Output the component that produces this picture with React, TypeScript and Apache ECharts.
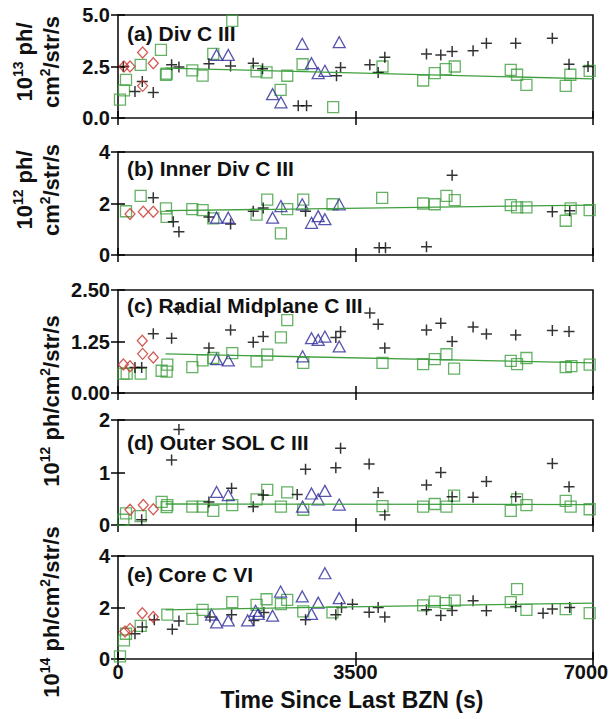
import React, { useEffect, useRef } from "react";
import * as echarts from "echarts";

// ---------- data (x = time since last BZN [s], y = brightness) ----------
const X_TICKS = [0, 3500, 7000];

// (a) Div C III  (10^13 ph/cm2/str/s)
const aPlus = [[79,2.50],[358,1.77],[250,1.29],[520,1.24],[790,2.58],[898,2.47],[1340,2.63],[1659,2.53],[1993,2.66],[2130,2.39],[2656,0.60],[2779,0.60],[3220,2.05],[3280,2.45],[3711,2.58],[3834,2.21],[3932,2.95],[4546,3.11],[4757,3.06],[4924,3.23],[5233,3.27],[5429,3.63],[5861,3.63],[6401,3.87],[6647,2.61],[6927,2.50]];
const aSquare = [[29,0.89],[88,1.34],[118,1.85],[334,2.58],[633,3.31],[707,2.10],[717,2.15],[1095,2.31],[1247,2.06],[1404,3.11],[1684,4.71],[2042,2.26],[2189,2.21],[2494,2.05],[2396,1.37],[2720,2.61],[3171,0.53],[3898,2.50],[4497,1.82],[4668,2.18],[4830,2.37],[4963,2.50],[5788,2.34],[5881,2.10],[6019,1.61],[6598,1.56],[6666,2.10],[6951,2.29]];
const aTri = [[1453,3.06],[1625,3.06],[2715,3.60],[3260,3.68],[2852,2.66],[2950,2.18],[3049,2.29],[2278,1.16],[2401,0.76]];
const aDia = [[88,2.50],[177,2.50],[363,3.18],[520,2.66],[363,1.56]];
const aFit = [[700,2.42],[7000,1.90]];

// (b) Inner Div C III  (10^12)
const bPlus = [[520,2.22],[815,1.29],[898,0.90],[1340,1.48],[1659,1.20],[1993,1.70],[2140,1.83],[2764,1.70],[3849,0.28],[3942,0.28],[4546,0.32],[4924,3.10],[6401,1.68],[6657,1.72]];
const bSquare = [[118,1.70],[334,2.30],[707,1.81],[717,1.48],[1095,1.78],[1247,1.74],[1404,1.42],[2042,1.57],[2199,2.15],[2494,1.78],[2401,0.84],[2730,2.15],[3161,1.97],[3893,2.22],[4497,2.00],[4668,1.97],[4840,2.30],[4963,2.13],[5788,1.94],[5881,1.85],[6019,1.85],[6598,1.33],[6671,1.81],[6951,1.74]];
const bTri = [[1453,1.45],[1625,1.45],[2278,1.45],[2401,1.90],[2715,1.97],[2852,1.25],[2950,1.51],[3049,1.39],[3260,1.97]];
const bDia = [[177,1.59],[373,1.68],[520,1.68]];
const bFit = [[700,1.72],[7000,1.94]];

// (c) Radial Midplane C III  (10^12)
const cPlus = [[250,0.62],[349,0.62],[520,1.44],[790,1.33],[888,2.03],[1340,1.09],[1659,1.53],[1993,1.23],[2140,1.37],[3210,1.35],[3280,1.49],[3711,1.94],[3834,1.67],[3932,1.09],[4546,1.53],[4757,1.69],[4924,1.25],[5233,1.60],[5429,1.43],[5861,1.41],[6401,1.52],[6647,1.49]];
const cSquare = [[79,0.47],[128,0.47],[334,0.47],[643,0.54],[717,0.52],[727,0.69],[1095,0.63],[1247,0.79],[1404,0.85],[1684,0.97],[2042,0.77],[2199,0.93],[2401,1.35],[2494,1.77],[2730,0.73],[3898,0.73],[4497,0.70],[4668,0.82],[4840,0.94],[4953,0.59],[5788,0.78],[5881,0.70],[6019,0.85],[6598,0.63],[6681,0.65],[6951,0.69]];
const cTri = [[1453,0.82],[1625,0.79],[2720,0.89],[2852,1.33],[2950,1.29],[3049,1.37],[3260,1.13]];
const cDia = [[79,0.69],[177,0.65],[358,1.27],[363,0.95],[520,0.86]];
const cFit = [[700,0.95],[7000,0.73]];

// (d) Outer SOL C III  (10^12)
const dPlus = [[349,0.10],[790,1.24],[898,1.82],[1340,0.44],[1674,0.70],[1993,0.35],[2140,0.57],[2641,0.58],[2764,1.06],[3210,1.09],[3280,1.46],[3701,1.16],[3834,0.62],[3932,0.19],[4546,0.76],[4757,1.00],[4924,0.54],[5233,0.53],[5429,0.83],[5861,0.54],[6401,1.17],[6647,0.73]];
const dSquare = [[79,0.10],[118,0.22],[334,0.17],[643,0.44],[717,0.34],[727,0.38],[1095,0.35],[1247,0.35],[1404,0.27],[1684,0.38],[2042,0.49],[2199,0.67],[2401,0.35],[2494,0.62],[2730,0.29],[3898,0.36],[4497,0.35],[4668,0.40],[4840,0.35],[4953,0.56],[5788,0.27],[5881,0.49],[6019,0.38],[6598,0.46],[6671,0.35],[6951,0.30]];
const dTri = [[1453,0.63],[1625,0.57],[2720,0.35],[2852,0.60],[2950,0.49],[3049,0.65],[3260,0.39]];
const dDia = [[177,0.29],[373,0.38],[520,0.30]];
const dFit = [[700,0.40],[7000,0.39]];

// (e) Core C VI  (10^14)
const ePlus = [[250,0.98],[358,1.24],[535,1.52],[800,1.16],[898,1.48],[1355,1.63],[1674,1.72],[2003,1.50],[2150,1.81],[2764,1.52],[3210,1.72],[3294,2.00],[3456,2.13],[3701,1.82],[3834,2.00],[3932,1.63],[4546,1.91],[4757,1.69],[4924,1.88],[5233,2.26],[5429,1.87],[5861,2.04],[6264,1.78],[6401,1.94],[6657,2.00]];
const eSquare = [[29,0.10],[88,0.72],[118,0.98],[334,1.29],[727,1.72],[1095,1.56],[1247,1.91],[1684,2.21],[2042,2.10],[2189,2.32],[2401,2.13],[2494,2.30],[2730,1.85],[3161,1.81],[4497,2.08],[4668,2.23],[4830,2.17],[4963,2.27],[5788,2.21],[5881,2.71],[6019,1.91],[6598,1.94],[6951,1.78]];
const eTri = [[1379,1.72],[1453,1.42],[1625,1.50],[1910,1.50],[2027,1.87],[2066,1.75],[2278,1.68],[2396,2.62],[2715,2.43],[2852,1.75],[2950,2.19],[3049,3.33],[3260,2.36]];
const eDia = [[103,1.07],[177,1.17],[358,1.78],[520,1.63]];
const eFit = [[700,1.91],[7000,2.17]];

const PANEL_TITLES = ["(a) Div C III", "(b) Inner Div C III", "(c) Radial Midplane C III", "(d) Outer SOL C III", "(e) Core C VI"];
const Y_MAX = [5, 4, 2.5, 2, 4];
const Y_INTERVAL = [2.5, 2, 1.25, 1, 2];
const Y_DECIMALS = [1, 0, 2, 0, 0];
const X_TITLE = "Time Since Last BZN (s)";

// ---------- layout ----------
const FONT = "'Liberation Sans', Arial, Helvetica, sans-serif";
const GRID_LEFT = 118;
const GRID_WIDTH = 475;
const GRID_TOPS = [15, 152, 290, 420, 556];
const GRID_HEIGHTS = [103, 103, 103, 105, 103];
const TITLE_Y = [33, 168, 305, 442, 574];

const GREEN = "#3f9f3f";
const BLUE = "#2e2a9a";
const RED = "#c8322a";
const PLUS = "path://M0,5L10,5M5,0L5,10";

export default function App() {
  const ref = useRef<HTMLDivElement>(null);

  useEffect(() => {
    if (!ref.current) return;
    const chart = echarts.init(ref.current, null, { renderer: "svg" });

    const panels = [
      { plus: aPlus, square: aSquare, tri: aTri, dia: aDia, fit: aFit },
      { plus: bPlus, square: bSquare, tri: bTri, dia: bDia, fit: bFit },
      { plus: cPlus, square: cSquare, tri: cTri, dia: cDia, fit: cFit },
      { plus: dPlus, square: dSquare, tri: dTri, dia: dDia, fit: dFit },
      { plus: ePlus, square: eSquare, tri: eTri, dia: eDia, fit: eFit },
    ];

    const grids: any[] = [];
    const xAxes: any[] = [];
    const yAxes: any[] = [];
    const series: any[] = [];

    const tick = { show: true, inside: true, length: 7, lineStyle: { color: "#000", width: 1.5 } };

    panels.forEach((p, i) => {
      grids.push({
        left: GRID_LEFT,
        width: GRID_WIDTH,
        top: GRID_TOPS[i],
        height: GRID_HEIGHTS[i],
        show: true,
        borderColor: "#111",
        borderWidth: 1.6,
        backgroundColor: "transparent",
      });
      const last = i === panels.length - 1;
      xAxes.push({
        gridIndex: i,
        type: "value",
        min: X_TICKS[0],
        max: X_TICKS[2],
        interval: X_TICKS[1] - X_TICKS[0],
        position: "bottom",
        axisLine: { show: false },
        axisTick: tick,
        splitLine: { show: false },
        axisLabel: {
          show: last,
          margin: 3,
          color: "#111",
          fontFamily: FONT,
          fontWeight: "bold",
          fontSize: 20,
          formatter: (v: number) => (v === X_TICKS[2] ? `{r|${v}}` : `${v}`),
          rich: { r: { padding: [0, 14, 0, 0], fontFamily: FONT, fontWeight: "bold", fontSize: 20, color: "#111" } },
        },
      });
      xAxes.push({
        gridIndex: i,
        type: "value",
        min: X_TICKS[0],
        max: X_TICKS[2],
        interval: X_TICKS[1] - X_TICKS[0],
        position: "top",
        axisLine: { show: false },
        axisTick: tick,
        splitLine: { show: false },
        axisLabel: { show: false },
      });
      yAxes.push({
        gridIndex: i,
        type: "value",
        min: 0,
        max: Y_MAX[i],
        interval: Y_INTERVAL[i],
        position: "left",
        axisLine: { show: false },
        axisTick: tick,
        splitLine: { show: false },
        axisLabel: {
          margin: 8,
          color: "#111",
          fontFamily: FONT,
          fontWeight: "bold",
          fontSize: 20,
          formatter: (v: number) => v.toFixed(Y_DECIMALS[i]),
        },
      });
      yAxes.push({
        gridIndex: i,
        type: "value",
        min: 0,
        max: Y_MAX[i],
        interval: Y_INTERVAL[i],
        position: "right",
        axisLine: { show: false },
        axisTick: tick,
        splitLine: { show: false },
        axisLabel: { show: false },
      });

      const xi = 2 * i;
      const yi = 2 * i;
      series.push({
        type: "line",
        xAxisIndex: xi,
        yAxisIndex: yi,
        data: p.fit,
        showSymbol: false,
        symbol: "none",
        lineStyle: { color: GREEN, width: 1.3 },
        z: 3,
      });
      series.push({
        type: "scatter",
        xAxisIndex: xi,
        yAxisIndex: yi,
        data: p.square,
        symbol: "rect",
        symbolSize: 11,
        itemStyle: { color: "rgba(0,0,0,0)", borderColor: GREEN, borderWidth: 1.3 },
        z: 2,
      });
      series.push({
        type: "scatter",
        xAxisIndex: xi,
        yAxisIndex: yi,
        data: p.plus,
        symbol: PLUS,
        symbolSize: 11,
        itemStyle: { color: "rgba(0,0,0,0)", borderColor: "#000", borderWidth: 1.5 },
        z: 2,
      });
      series.push({
        type: "scatter",
        xAxisIndex: xi,
        yAxisIndex: yi,
        data: p.tri,
        symbol: "triangle",
        symbolSize: [12, 11],
        itemStyle: { color: "rgba(0,0,0,0)", borderColor: BLUE, borderWidth: 1.3 },
        z: 2,
      });
      series.push({
        type: "scatter",
        xAxisIndex: xi,
        yAxisIndex: yi,
        data: p.dia,
        symbol: "diamond",
        symbolSize: [10, 11],
        itemStyle: { color: "rgba(0,0,0,0)", borderColor: RED, borderWidth: 1.3 },
        z: 2,
      });
    });

    const nStyle = { fontFamily: FONT, fontWeight: "bold", fontSize: 22, lineHeight: 27, color: "#111" };
    const sStyle = { fontFamily: FONT, fontWeight: "bold", fontSize: 14, lineHeight: 14, verticalAlign: "top", color: "#111" };
    const rich = { n: nStyle, s: sStyle };

    const yLabel = (x: number, y: number, text: string) => ({
      type: "text",
      x,
      y,
      rotation: Math.PI / 2,
      style: {
        text,
        x: 0,
        y: 0,
        align: "center",
        verticalAlign: "middle",
        rich,
        fontFamily: FONT,
        fontWeight: "bold",
        fontSize: 22,
        fill: "#111",
      },
      z: 10,
    });

    const graphic: any[] = [
      yLabel(38, 62, "{n|10}{s|13}{n| ph/}\n{n|cm}{s|2}{n|/str/s}"),
      yLabel(38, 190, "{n|10}{s|12}{n| ph/}\n{n|cm}{s|2}{n|/str/s}"),
      yLabel(51, 401, "{n|10}{s|12}{n| ph/cm}{s|2}{n|/str/s}"),
      yLabel(51, 612, "{n|10}{s|14}{n| ph/cm}{s|2}{n|/str/s}"),
      {
        type: "text",
        x: 352,
        y: 700,
        style: {
          text: X_TITLE,
          align: "center",
          verticalAlign: "middle",
          fontFamily: FONT,
          fontWeight: "bold",
          fontSize: 23,
          fill: "#111",
        },
      },
    ];
    PANEL_TITLES.forEach((t, i) => {
      graphic.push({
        type: "text",
        x: 127,
        y: TITLE_Y[i],
        style: {
          text: t,
          align: "left",
          verticalAlign: "middle",
          fontFamily: FONT,
          fontWeight: "bold",
          fontSize: 21,
          fill: "#111",
        },
        z: 10,
      });
    });

    chart.setOption({
      animation: false,
      backgroundColor: "#fff",
      grid: grids,
      xAxis: xAxes,
      yAxis: yAxes,
      series,
      graphic,
    });

    return () => chart.dispose();
  }, []);

  return (
    <div
      ref={ref}
      style={{ position: "absolute", left: 0, top: 0, width: 612, height: 719 }}
    />
  );
}
